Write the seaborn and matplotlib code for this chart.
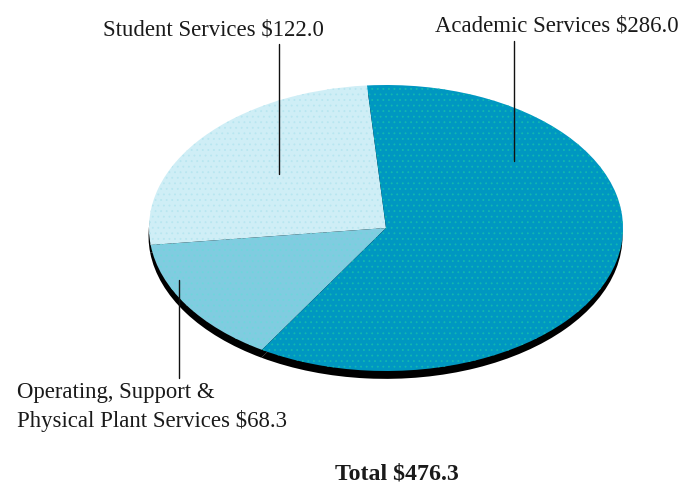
import matplotlib
matplotlib.use("Agg")
import matplotlib.pyplot as plt
from matplotlib.lines import Line2D
import seaborn as sns

sns.set_theme(style="white")
plt.rcParams["font.family"] = ["Liberation Serif", "DejaVu Serif"]
plt.rcParams["hatch.linewidth"] = 0.6

# Expenditures by service area, in millions of dollars
categories = ["Student Services", "Operating, Support &\nPhysical Plant Services", "Academic Services"]
values = [122.0, 68.3, 286.0]
total_label = "Total $476.3"
slice_colors = ["#CFEEF6", "#80CCE0", "#0097C1"]
dot_colors = ["#B8E6F0", "#6FD6DC", "#12B8B0"]
TEXT = "#1a1a1a"

W, H = 683, 486
fig = plt.figure(figsize=(W / 100, H / 100), dpi=100, facecolor="white")


def fx(px):
    return px / W


def fy(py):
    return 1 - py / H


# A flattened pie: the axes box is the bounding box of the tilted disc
ax = fig.add_axes([fx(149), fy(371), 474 / W, 286 / H])
shadow, _ = ax.pie(values, startangle=94.6, radius=1.0, center=(-0.002, -0.055),
                   colors=["black"] * 3, wedgeprops={"linewidth": 0})
wedges, _ = ax.pie(values, startangle=94.6, radius=1.0, center=(0, 0), colors=slice_colors,
                   wedgeprops={"linewidth": 0})
for w, c in zip(wedges, dot_colors):
    w.set_hatch("...")
    w.set_edgecolor(c)
for w in list(shadow) + list(wedges):
    w.set_clip_on(False)
ax.set_aspect("auto")
ax.set_xlim(-1, 1)
ax.set_ylim(-1, 1)
ax.axis("off")

# Leader lines from each label into its slice
leaders = [((279, 44), (279, 174)), ((179, 280), (179, 378)), ((514, 41), (514, 161))]
for (x0, y0), (x1, y1) in leaders:
    fig.add_artist(Line2D([fx(x0), fx(x1)], [fy(y0), fy(y1)], color="#111111", lw=1.0,
                          transform=fig.transFigure))

fs = 16.4
fig.text(fx(103), fy(30), categories[0] + " $%.1f" % values[0], fontsize=fs, color=TEXT,
         ha="left", va="center")
fig.text(fx(435), fy(26), categories[2] + " $%.1f" % values[2], fontsize=fs, color=TEXT,
         ha="left", va="center")
fig.text(fx(17), fy(407), categories[1] + " $%.1f" % values[1], fontsize=fs, color=TEXT,
         ha="left", va="center", linespacing=1.42)
fig.text(fx(335), fy(474), total_label, fontsize=17.2, fontweight="bold", color=TEXT,
         ha="left", va="center")

fig.savefig("out.png", dpi=100, facecolor="white")
